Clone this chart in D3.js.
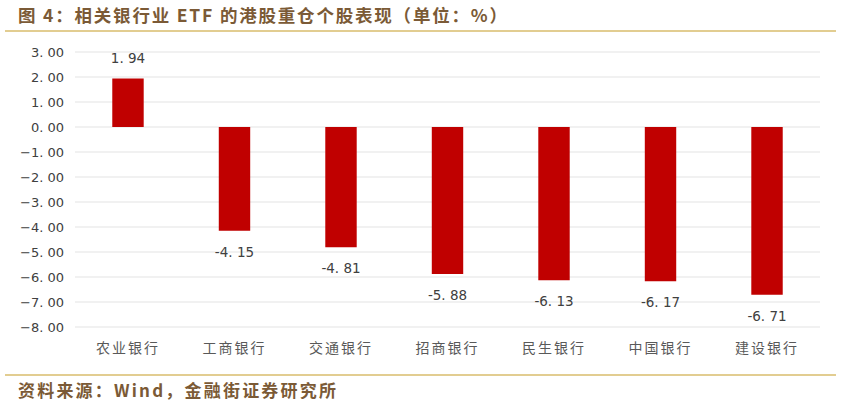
<html>
<head>
<meta charset="utf-8">
<script src="https://d3js.org/d3.v7.min.js"></script>
<style>
body { margin: 0; background: #fff; }
</style>
</head>
<body>
<script>
const banks = ["农业银行", "工商银行", "交通银行", "招商银行", "民生银行", "中国银行", "建设银行"];
const perf = [1.94, -4.15, -4.81, -5.88, -6.13, -6.17, -6.71];
const yTicks = [3, 2, 1, 0, -1, -2, -3, -4, -5, -6, -7, -8];

const W = 841, H = 407;
const brown = "#7b5a36", gold = "#d8bd6c";

const svg = d3.select("body").append("svg").attr("width", W).attr("height", H);

svg.append("text")
    .attr("x", 18).attr("y", 22)
    .attr("font-family", "Noto Sans CJK SC")
    .attr("font-weight", "bold")
    .attr("font-size", "17.5px")
    .attr("letter-spacing", "1.8px")
    .attr("fill", brown)
    .text("图 4：相关银行业 ETF 的港股重仓个股表现（单位：%）");

svg.append("line").attr("x1", 5).attr("x2", 836).attr("y1", 31).attr("y2", 31)
    .attr("stroke", gold).attr("stroke-width", 1.5);
svg.append("line").attr("x1", 5).attr("x2", 836).attr("y1", 375).attr("y2", 375)
    .attr("stroke", gold).attr("stroke-width", 1.5);

svg.append("text")
    .attr("x", 18).attr("y", 397)
    .attr("font-family", "Noto Sans CJK SC")
    .attr("font-weight", "bold")
    .attr("font-size", "17px")
    .attr("letter-spacing", "2.2px")
    .attr("fill", brown)
    .text("资料来源：Wind，金融街证券研究所");

let x = d3.scaleBand().domain(banks).range([75, 820]).paddingInner(0.705).paddingOuter(0.35);
let y = d3.scaleLinear().domain([-8, 3]).range([327, 52]);

// gridlines
svg.append("g").selectAll("line")
    .data(yTicks)
    .enter().append("line")
    .attr("x1", 75).attr("x2", 820)
    .attr("y1", d => y(d)).attr("y2", d => y(d))
    .attr("stroke", "#e3e3e3").attr("stroke-width", 1.2);

// y tick labels
svg.append("g").selectAll("text")
    .data(yTicks)
    .enter().append("text")
    .attr("x", 64).attr("y", d => y(d) + 5)
    .attr("text-anchor", "end")
    .attr("font-family", "DejaVu Sans")
    .attr("font-size", "13px")
    .attr("fill", "#404040")
    .text(d => d3.format(".2f")(d).replace(".", ". "));

// bars
svg.append("g").selectAll("rect")
    .data(perf)
    .enter().append("rect")
    .attr("x", (d, i) => x(banks[i]))
    .attr("width", x.bandwidth())
    .attr("y", d => y(Math.max(0, d)))
    .attr("height", d => Math.abs(y(d) - y(0)))
    .attr("fill", "#c00000");

// value labels
svg.append("g").selectAll("text")
    .data(perf)
    .enter().append("text")
    .attr("x", (d, i) => x(banks[i]) + x.bandwidth() / 2)
    .attr("y", d => d >= 0 ? y(d) - 16 : y(d) + 26)
    .attr("text-anchor", "middle")
    .attr("font-family", "DejaVu Sans")
    .attr("font-size", "13.5px")
    .attr("fill", "#404040")
    .text(d => d3.format(".2f")(d).replace(".", ". ").replace("−", "-"));

// category labels
svg.append("g").selectAll("text")
    .data(banks)
    .enter().append("text")
    .attr("x", d => x(d) + x.bandwidth() / 2)
    .attr("y", 353)
    .attr("text-anchor", "middle")
    .attr("font-family", "Noto Sans CJK SC")
    .attr("font-size", "14px")
    .attr("letter-spacing", "2px")
    .attr("fill", "#595959")
    .text(d => d);
</script>
</body>
</html>
